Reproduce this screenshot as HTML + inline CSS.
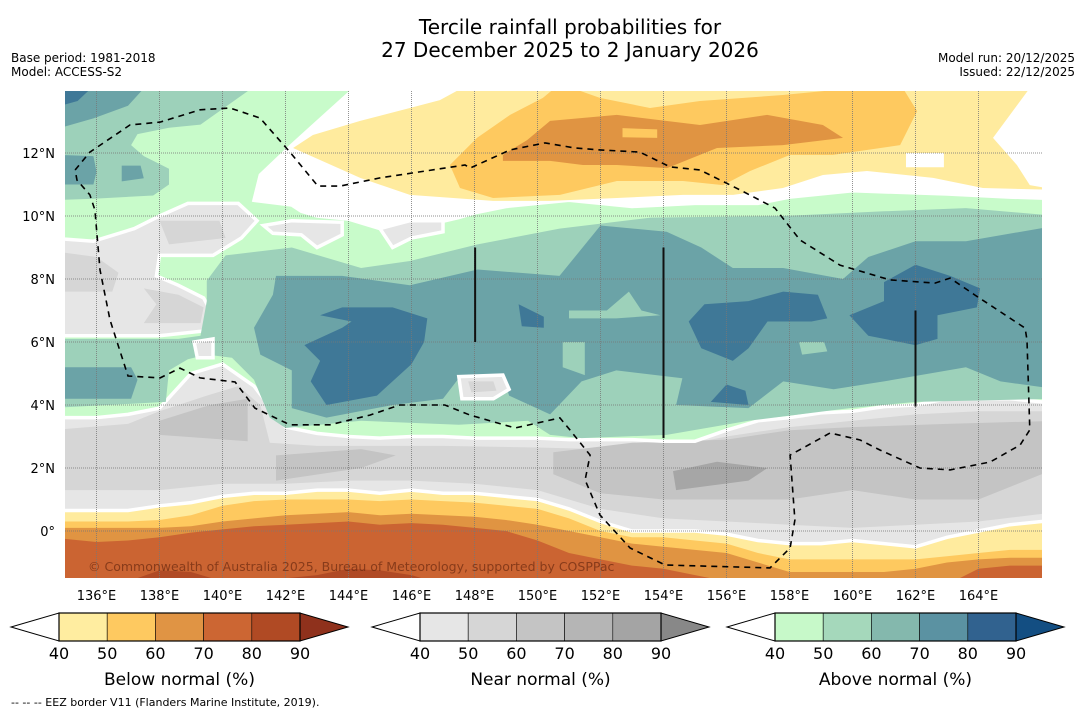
<!DOCTYPE html>
<html><head><meta charset="utf-8"><style>
body{margin:0;background:#fff;width:1085px;height:713px;overflow:hidden}
svg text{font-family:"DejaVu Sans","Liberation Sans",sans-serif}
</style></head><body>
<svg id="chart" width="1085" height="713" viewBox="0 0 1085 713" xmlns="http://www.w3.org/2000/svg">
<defs><clipPath id="mapclip"><rect x="65" y="91" width="977" height="487"/></clipPath></defs>
<text x="570" y="34" font-size="20" text-anchor="middle" fill="#000">Tercile rainfall probabilities for</text>
<text x="570" y="57" font-size="20" text-anchor="middle" fill="#000">27 December 2025 to 2 January 2026</text>
<text x="11" y="62" font-size="12">Base period: 1981-2018</text>
<text x="11" y="76" font-size="12">Model: ACCESS-S2</text>
<text x="1075" y="62" font-size="12" text-anchor="end">Model run: 20/12/2025</text>
<text x="1075" y="76" font-size="12" text-anchor="end">Issued: 22/12/2025</text>
<g id="map" clip-path="url(#mapclip)"></g>
<g id="overlay"></g>
<g id="cbars"></g>
<text x="11" y="706" font-size="11">--  --  -- EEZ border V11 (Flanders Marine Institute, 2019).</text>
</svg>
<script>
// ---- data ----
const lonTicks = [136,138,140,142,144,146,148,150,152,154,156,158,160,162,164];
const latTicks = [0,2,4,6,8,10,12];
const bandLons = [135,136,137,138,139,140,141,142,143,144,145,146,147,148,149,150,151,152,153,154,155,156,157,158,159,160,161,162,163,164,165,166];
const yellowTop = [.65,.65,.65,.8,.9,1.1,1.2,1.2,1.3,1.3,1.2,1.3,1.2,1.2,1.1,1.0,.7,.3,0,0,0,-.1,-.3,-.4,-.4,-.3,-.4,-.5,-.2,0,.2,.3];
const orange50Top = [.3,.3,.3,.35,.5,.8,.95,1.0,1.0,1.0,.95,1.0,.95,.9,.8,.7,.4,0,-.2,-.2,-.3,-.4,-.7,-.9,-.9,-.9,-.9,-.9,-.8,-.7,-.6,-.6];
const orange60Top = [.1,.1,.1,.1,.15,.3,.4,.5,.55,.6,.5,.55,.5,.45,.35,.2,0,-.2,-.4,-.5,-.6,-.7,-1.0,-1.3,-1.3,-1.3,-1.3,-1.2,-1.0,-.9,-.85,-.85];
const orange70Top = [-.25,-.35,-.3,-.2,-.05,.05,.15,.2,.25,.3,.2,.25,.2,.1,0,-.3,-.7,-.9,-1.1,-1.2,-1.4,-1.6,-1.7,-1.7,-1.7,-1.7,-1.7,-1.7,-1.7,-1.2,-1.1,-1.1];
const red80Top = [-1.7,-1.7,-1.6,-1.25,-1.3,-1.6,-1.7,-1.5,-1.4,-1.2,-1.25,-1.4,-1.7,-1.7,-1.7,-1.7,-1.7,-1.7,-1.7,-1.7,-1.7,-1.7,-1.7,-1.7,-1.7,-1.7,-1.7,-1.7,-1.7,-1.7,-1.7,-1.7];
const aboveBottom = [3.6,3.6,3.7,3.9,5.0,5.3,4.6,3.3,3.1,3.0,2.95,3.0,3.0,2.95,2.95,2.95,2.9,2.9,2.9,2.85,2.85,3.2,3.5,3.6,3.75,3.8,3.95,4.0,4.2,4.2,4.2,4.1];
const greenTopEdge = [[166.5,10.55],[165,10.6],[163,10.7],[160,10.8],[158,10.6],[157,10.4],[155,10.4],[153,10.3],[151,10.5],[149,10.3],[148,10.1],[147.5,9.95],[146,9.6],[145,9.6],[144,9.9],[143,10.0],[142.5,10.15],[142.2,10.35],[141,10.5],[141.2,11.3],[142.2,12.25],[144.8,14.6],[134.5,14.6]];
const grayUpper = [[134.5,9.3],[135.9,9.2],[137.2,9.6],[138,10.0],[138.9,10.4],[140.5,10.4],[141.1,9.85],[140.6,9.3],[139.7,8.75],[138,8.75],[137.9,8.1],[138.6,7.8],[139.4,7.4],[139.7,6.85],[139.4,6.35],[138,6.2],[134.5,6.2]];
const grayUpper50a = [[138,9.85],[139.9,9.85],[140.1,9.3],[138.3,9.1]];
const grayUpper50b = [[134.5,8.9],[136,8.7],[136.7,8.2],[136.5,7.6],[134.5,7.6]];
const grayUpper50c = [[137.5,7.7],[138.6,7.5],[139.4,7.1],[139.3,6.6],[137.5,6.6],[137.9,7.2]];
const grayPatch1 = [[141.3,9.7],[142.2,9.85],[143.8,9.8],[143.8,9.4],[143,9.0],[142.5,9.4],[141.6,9.45]];
const grayPatch2 = [[145,9.6],[145.95,9.85],[147,9.85],[147,9.5],[146,9.3],[145.4,9.0]];
const grayPatch3 = [[139.1,6.0],[139.7,6.1],[139.7,5.5],[139.2,5.5]];
const grayPatch4 = [[147.5,4.9],[148.9,4.95],[149.1,4.5],[148.6,4.2],[147.6,4.2]];
const grayPatch4in = [[147.8,4.75],[148.6,4.75],[148.7,4.45],[147.9,4.4]];
const gray50Band = [[134.5,3.2],[137,3.4],[138,3.8],[139.5,4.3],[140.5,4.6],[141.2,4.0],[141.5,2.8],[143,2.7],[145,2.7],[147,2.7],[150,2.65],[152,2.6],[154,2.6],[156,3.0],[158,3.3],[160,3.5],[162,3.7],[164,3.8],[166.5,3.8],[166.5,0.6],[164,0.3],[162,0.2],[160,0.1],[158,0.2],[156,0.3],[154,0.4],[152,0.7],[150,1.3],[148,1.5],[146,1.6],[144,1.6],[142,1.5],[140,1.5],[138,1.3],[136,1.3],[134.5,1.3]];
const gray60a = [[138,3.5],[139.6,4.0],[140.8,4.2],[140.8,2.85],[138,3.05]];
const gray60b = [[141.7,2.4],[144.4,2.6],[145.5,2.4],[144.4,2.0],[141.7,1.6]];
const gray60c = [[150.5,2.5],[153,2.8],[156,2.9],[158,3.2],[160,3.3],[163,3.4],[166.5,3.5],[166.5,2.0],[164,1.0],[162,1.0],[160,1.3],[158,1.0],[156,1.0],[154,1.0],[152,1.2],[150.5,1.8]];
const gray70a = [[154.3,1.9],[155.7,2.2],[157.3,2.0],[156.7,1.6],[154.4,1.3]];
const teal50Main = [[134.5,6.1],[138.6,6.1],[139.3,6.2],[139.5,7.3],[139.5,7.95],[140.1,8.75],[142.2,9.0],[144.4,8.35],[145.95,8.57],[148.1,9.1],[150.7,9.6],[153.6,9.95],[157.8,10.0],[161,10.15],[163.6,10.25],[166.5,10.0],[166.5,4.2],[162,4.1],[159.9,3.9],[156.7,3.5],[154.1,3.05],[151.4,2.95],[150.4,3.05],[149.7,3.5],[147.5,3.37],[144.4,3.5],[142,3.27],[141.5,3.6],[141,4.8],[140.3,5.5],[139.5,5.6],[138.9,5.45],[138.3,5.1],[138.2,4.1],[134.5,3.9]];
const teal50TopLeft = [[141.7,14.6],[139.3,12.9],[138.3,12.8],[137.3,12.6],[137.1,12.25],[137.5,11.9],[138.3,11.5],[138.3,11.0],[137.8,10.65],[135.9,10.55],[134.5,10.5],[134.5,14.6]];
const teal60TopLeft = [[138,14.6],[137,13.5],[135.9,13.1],[134.5,12.7],[134.5,14.6]];
const blue70TopLeft = [[136.4,14.6],[135.4,13.65],[134.5,13.4],[134.5,14.6]];
const teal60LeftBlob = [[134.5,11.95],[135.9,11.9],[136,11.4],[135.9,11.0],[134.5,11.0]];
const teal60SmallBlob = [[136.8,11.6],[137.4,11.6],[137.5,11.2],[136.8,11.1]];
const teal60Main = [[141.7,8.1],[143.8,8.1],[145.95,7.8],[148.1,8.3],[150.7,8.1],[152,9.7],[154.1,9.5],[155.2,9.0],[156.2,8.35],[157.8,8.35],[159.7,8.0],[160.5,8.7],[162,9.2],[163.6,9.2],[166.5,9.7],[166.5,4.5],[164.7,4.75],[163.6,5.2],[161,4.75],[159.4,4.5],[157.8,4.75],[156.7,3.9],[154.4,4.0],[154.6,4.85],[152.5,5.1],[151.4,4.75],[150.4,3.7],[149.1,4.3],[148.9,4.95],[147.5,4.85],[147,4.2],[145.4,4.0],[143.3,3.6],[142.2,3.9],[142.2,5.1],[141.2,5.6],[141.0,6.45],[141.6,7.5]];
const teal60LeftBand = [[134.5,5.2],[137.1,5.2],[137.3,4.8],[137.1,4.2],[134.5,4.2]];
const teal50Island1 = [[150.8,6.0],[151.5,6.0],[151.5,4.95],[150.8,5.2]];
const teal50Island2 = [[151,7.0],[152.2,7.0],[152.9,7.6],[153.3,7.0],[153.9,6.85],[152.5,6.75],[151,6.75]];
const teal50Island3 = [[158.3,6.0],[159.1,6.0],[159.2,5.7],[158.4,5.6]];
const blue70Main = [[143.1,6.85],[143.8,7.1],[145.4,7.1],[146.5,6.75],[146.4,6.0],[146,5.3],[144.9,4.3],[143.3,4.0],[142.8,4.75],[143.1,5.4],[142.6,5.9],[143.8,6.45],[144.1,6.65]];
const blue70A = [[154.8,6.65],[155.3,7.2],[156.7,7.3],[157.8,7.6],[158.9,7.5],[159.2,6.75],[158.7,6.65],[157.3,6.65],[156.7,5.8],[156.2,5.4],[155.2,5.8]];
const blue70B = [[159.9,6.85],[161,7.3],[161,7.9],[162,8.45],[163.1,8.1],[164.05,7.7],[163.95,7.1],[162.7,6.85],[162.7,6.1],[162,5.9],[160.5,6.2]];
const blue70C = [[155.5,4.1],[156,4.65],[156.6,4.45],[156.7,4.0]];
const blue70D = [[149.4,7.2],[150.2,6.8],[150.2,6.45],[149.5,6.5]];
const yellowTopRegion = [[142.24,12.16],[142.87,12.57],[144.37,13.02],[145.95,13.43],[146.9,13.68],[147.86,14.2],[165.73,14.2],[164.46,12.48],[165.22,11.62],[165.63,10.98],[166.5,10.83],[164.14,10.89],[162.56,11.21],[160.46,11.43],[159.06,11.3],[157.79,10.89],[156.21,10.67],[154.62,10.67],[152.52,10.57],[150.4,10.48],[148.59,10.48],[145.95,10.67],[144.37,11.21]];
const whiteIsland = [[161.7,12.0],[162.9,12.0],[162.9,11.55],[161.7,11.55]];
const orange50TopRegion = [[147.22,11.62],[147.54,10.89],[148.59,10.57],[150.71,10.67],[152.52,11.11],[154.62,11.11],[155.89,10.98],[156.75,11.43],[158.02,11.94],[159.38,11.94],[161.51,12.25],[162.05,13.33],[161.51,14.2],[157.79,13.84],[155.16,13.65],[153.57,13.43],[151.98,13.75],[150.71,14.2],[150.17,13.75],[149.13,13.21],[148.08,12.48]];
const orange60TopRegion = [[148.9,11.94],[149.67,12.41],[150.4,13.02],[152.52,13.21],[155.16,12.89],[157.29,13.21],[159.06,12.89],[159.7,12.48],[157.79,12.25],[155.7,12.16],[154.11,11.52],[152.52,11.62],[151.44,11.62],[150.4,11.75],[148.9,11.75]];
const orange50Hole = [[152.7,12.79],[153.8,12.75],[153.8,12.48],[152.7,12.5]];
const eezBorder = [[135.32,11.46],[135.79,12.03],[137.06,12.89],[138.02,12.98],[139.29,13.37],[140.24,13.43],[141.19,13.11],[142.14,12.03],[143.03,10.95],[143.73,10.95],[145.0,11.21],[147.7,11.62],[147.86,11.52],[149.13,12.1],[150.24,12.32],[151.19,12.16],[151.98,12.1],[153.25,12.03],[154.21,11.56],[155.16,11.46],[156.43,10.83],[157.54,10.25],[158.33,9.24],[159.6,8.44],[161.19,7.97],[162.62,7.87],[163.1,8.03],[163.89,7.49],[165.48,6.44],[165.54,6.06],[165.63,3.21],[165.32,2.73],[164.37,2.19],[163.1,1.94],[162.14,2.0],[160.87,2.57],[160.24,2.89],[159.29,3.11],[158.02,2.41],[158.17,0.35],[158.02,-0.54],[157.38,-1.17],[154.05,-1.08],[152.94,-0.54],[151.98,0.51],[151.51,1.62],[151.67,2.41],[151.03,3.21],[150.71,3.59],[149.29,3.27],[147.86,3.68],[147.06,4.0],[145.63,4.0],[144.68,3.68],[143.41,3.37],[142.14,3.37],[141.03,3.9],[140.4,4.73],[139.29,4.86],[138.65,5.17],[138.02,4.86],[137.0,4.92],[136.43,6.7],[136.11,8.29],[135.95,10.19],[135.79,10.67],[135.38,11.14],[135.32,11.46]];
const regionLines = [[[148.02,9.0],[148.02,6.0]],[[154.0,9.0],[154.0,2.95]],[[162.0,7.0],[162.0,3.95]]];
const cbLevels = [40,50,60,70,80,90];
const belowColors = ['#ffeda0','#fec960','#e09444','#cc6633','#b04a24','#8f311c'];
const nearColors = ['#e6e6e6','#d6d6d6','#c4c4c4','#b5b5b5','#a4a4a4','#888888'];
const aboveColors = ['#c7f9c9','#a5d8bb','#84b8ad','#5b92a2','#31628f','#134e82'];
const cbTitles = ['Below normal (%)','Near normal (%)','Above normal (%)'];

// ---- scales ----
const X = lon => 65 + (lon - 135) * 31.5;
const Y = lat => 531 - lat * 31.5;
const NS = 'http://www.w3.org/2000/svg';
const map = document.getElementById('map');
const overlay = document.getElementById('overlay');
function mk(tag, attrs, parent){const e=document.createElementNS(NS,tag);for(const k in attrs)e.setAttribute(k,attrs[k]);parent.appendChild(e);return e;}
function ptsStr(pts){return pts.map(p=>X(p[0]).toFixed(1)+','+Y(p[1]).toFixed(1)).join(' ');}
function region(pts, fill, name, white){
  const e = mk('polygon',{points:ptsStr(pts),fill:fill},map);
  if(white){e.setAttribute('stroke','#fff');e.setAttribute('stroke-width','3.5');e.setAttribute('stroke-linejoin','miter');}
  
  
  return e;
}
function bandBelow(tops){
  const pts=[[133.5,tops[0]]];
  bandLons.forEach((l,i)=>pts.push([l,tops[i]]));
  pts.push([167.5,tops[tops.length-1]],[167.5,-3],[133.5,-3]);
  return pts;
}
function bandAbove(bottoms, topEdge){
  const pts=[[133.5,bottoms[0]]];
  bandLons.forEach((l,i)=>pts.push([l,bottoms[i]]));
  pts.push([167.5,bottoms[bottoms.length-1]]);
  return pts.concat(topEdge);
}

region([[133.5,-3],[167.5,-3],[167.5,6],[133.5,6]],'#e6e6e6','near-normal-40-band',false);
region(gray50Band,'#d6d6d6','near-normal-50-band',false);
region(gray60a,'#c4c4c4','near-normal-60-patch',false);
region(gray60b,'#c4c4c4','near-normal-60-patch',false);
region(gray60c,'#c4c4c4','near-normal-60-patch',false);
region(gray70a,'#a6a6a6','near-normal-70-patch',false);
region(bandAbove(aboveBottom, greenTopEdge),'#c8fbca','above-normal-40-region',true);
region(grayUpper,'#e6e6e6','near-normal-40-upper',true);
region(grayUpper50a,'#d6d6d6','near-normal-50-upper',false);
region(grayUpper50b,'#d6d6d6','near-normal-50-upper',false);
region(grayUpper50c,'#d6d6d6','near-normal-50-upper',false);
region(grayPatch1,'#e6e6e6','near-normal-40-patch',true);
region(grayPatch2,'#e6e6e6','near-normal-40-patch',true);
region(teal50TopLeft,'#9dd1ba','above-normal-50-topleft',false);
region(teal60TopLeft,'#6ba3a7','above-normal-60-topleft',false);
region(blue70TopLeft,'#3f7897','above-normal-70-topleft',false);
region(teal60LeftBlob,'#6ba3a7','above-normal-60-blob',false);
region(teal60SmallBlob,'#6ba3a7','above-normal-60-blob',false);
region(teal50Main,'#9dd1ba','above-normal-50-region',false);
region(teal60LeftBand,'#6ba3a7','above-normal-60-left',false);
region(teal60Main,'#6ba3a7','above-normal-60-region',false);
region(teal50Island1,'#9dd1ba','above-normal-50-island',false);
region(teal50Island2,'#9dd1ba','above-normal-50-island',false);
region(teal50Island3,'#9dd1ba','above-normal-50-island',false);
region(blue70Main,'#3f7897','above-normal-70-region',false);
region(blue70A,'#3f7897','above-normal-70-region',false);
region(blue70B,'#3f7897','above-normal-70-region',false);
region(blue70C,'#3f7897','above-normal-70-region',false);
region(blue70D,'#3f7897','above-normal-70-region',false);
region(grayPatch3,'#e6e6e6','near-normal-40-patch',true);
region(grayPatch4,'#e6e6e6','near-normal-40-patch',true);
region(grayPatch4in,'#d6d6d6','near-normal-50-patch',false);
region(yellowTopRegion,'#ffeb9e','below-normal-40-top',false);
region(whiteIsland,'#ffffff','no-signal-island',false);
region(orange50TopRegion,'#fec95f','below-normal-50-top',false);
region(orange60TopRegion,'#e09442','below-normal-60-top',false);
region(orange50Hole,'#fec95f','below-normal-50-hole',false);
region(bandBelow(yellowTop),'#ffeb9e','below-normal-40-band',true);
region(bandBelow(orange50Top),'#fec95f','below-normal-50-band',false);
region(bandBelow(orange60Top),'#e09442','below-normal-60-band',false);
region(bandBelow(orange70Top),'#cb6432','below-normal-70-band',false);
region(bandBelow(red80Top),'#b04a25','below-normal-80-band',false);

lonTicks.forEach(l=>{
  const ln=mk('line',{x1:X(l),x2:X(l),y1:91,y2:578,stroke:'#777','stroke-width':1,'stroke-dasharray':'1,1','stroke-opacity':0.8},overlay);
  
  
  const t=mk('text',{x:X(l),y:600,'font-size':13,'text-anchor':'middle'},overlay);
  t.textContent=l+'°E';
  
  
});
latTicks.forEach(l=>{
  const ln=mk('line',{x1:65,x2:1042,y1:Y(l),y2:Y(l),stroke:'#777','stroke-width':1,'stroke-dasharray':'1,1','stroke-opacity':0.8},overlay);
  
  
  const t=mk('text',{x:55,y:Y(l)+5,'font-size':13,'text-anchor':'end'},overlay);
  t.textContent=(l===0?'0°':l+'°N');
  
  
});
regionLines.forEach(seg=>{
  const ln=mk('line',{x1:X(seg[0][0]),y1:Y(seg[0][1]),x2:X(seg[1][0]),y2:Y(seg[1][1]),stroke:'#111','stroke-width':2},overlay);
  
  
});
const eez=mk('polyline',{points:ptsStr(eezBorder),fill:'none',stroke:'#000','stroke-width':1.6,'stroke-dasharray':'6,5'},overlay);


const cp=mk('text',{x:88,y:571,'font-size':12.5,fill:'#6b2a10','fill-opacity':0.7},overlay);
cp.textContent='© Commonwealth of Australia 2025, Bureau of Meteorology, supported by COSPPac';



const cb=document.getElementById('cbars');
const cbLeft=[59,420,775];
const cbW=48.2, cbTop=613, cbH=28;
[belowColors,nearColors,aboveColors].forEach((cols,k)=>{
  const x0=cbLeft[k];
  const S=v=>x0+(v-40)/10*cbW;
  const xEnd=S(90);
  const lt=mk('polygon',{points:`${x0},${cbTop} ${x0},${cbTop+cbH} ${x0-48},${cbTop+cbH/2}`,fill:'#fff',stroke:'#000','stroke-width':1},cb);
  
  
  for(let i=0;i<5;i++){
    const r=mk('rect',{x:S(cbLevels[i]),y:cbTop,width:S(cbLevels[i+1])-S(cbLevels[i]),height:cbH,fill:cols[i],stroke:'#000','stroke-width':0.6},cb);
    
    
  }
  const rt=mk('polygon',{points:`${xEnd},${cbTop} ${xEnd},${cbTop+cbH} ${xEnd+48},${cbTop+cbH/2}`,fill:cols[5],stroke:'#000','stroke-width':1},cb);
  
  
  const ol=mk('rect',{x:x0,y:cbTop,width:xEnd-x0,height:cbH,fill:'none',stroke:'#000','stroke-width':1.2},cb);
  
  
  cbLevels.forEach(v=>{
    const t=mk('text',{x:S(v),y:659,'font-size':16,'text-anchor':'middle'},cb);
    t.textContent=v;
    
    
  });
  const tt=mk('text',{x:(x0+xEnd)/2,y:685,'font-size':17,'text-anchor':'middle'},cb);
  tt.textContent=cbTitles[k];
  
  
});
</script>
</body></html>
